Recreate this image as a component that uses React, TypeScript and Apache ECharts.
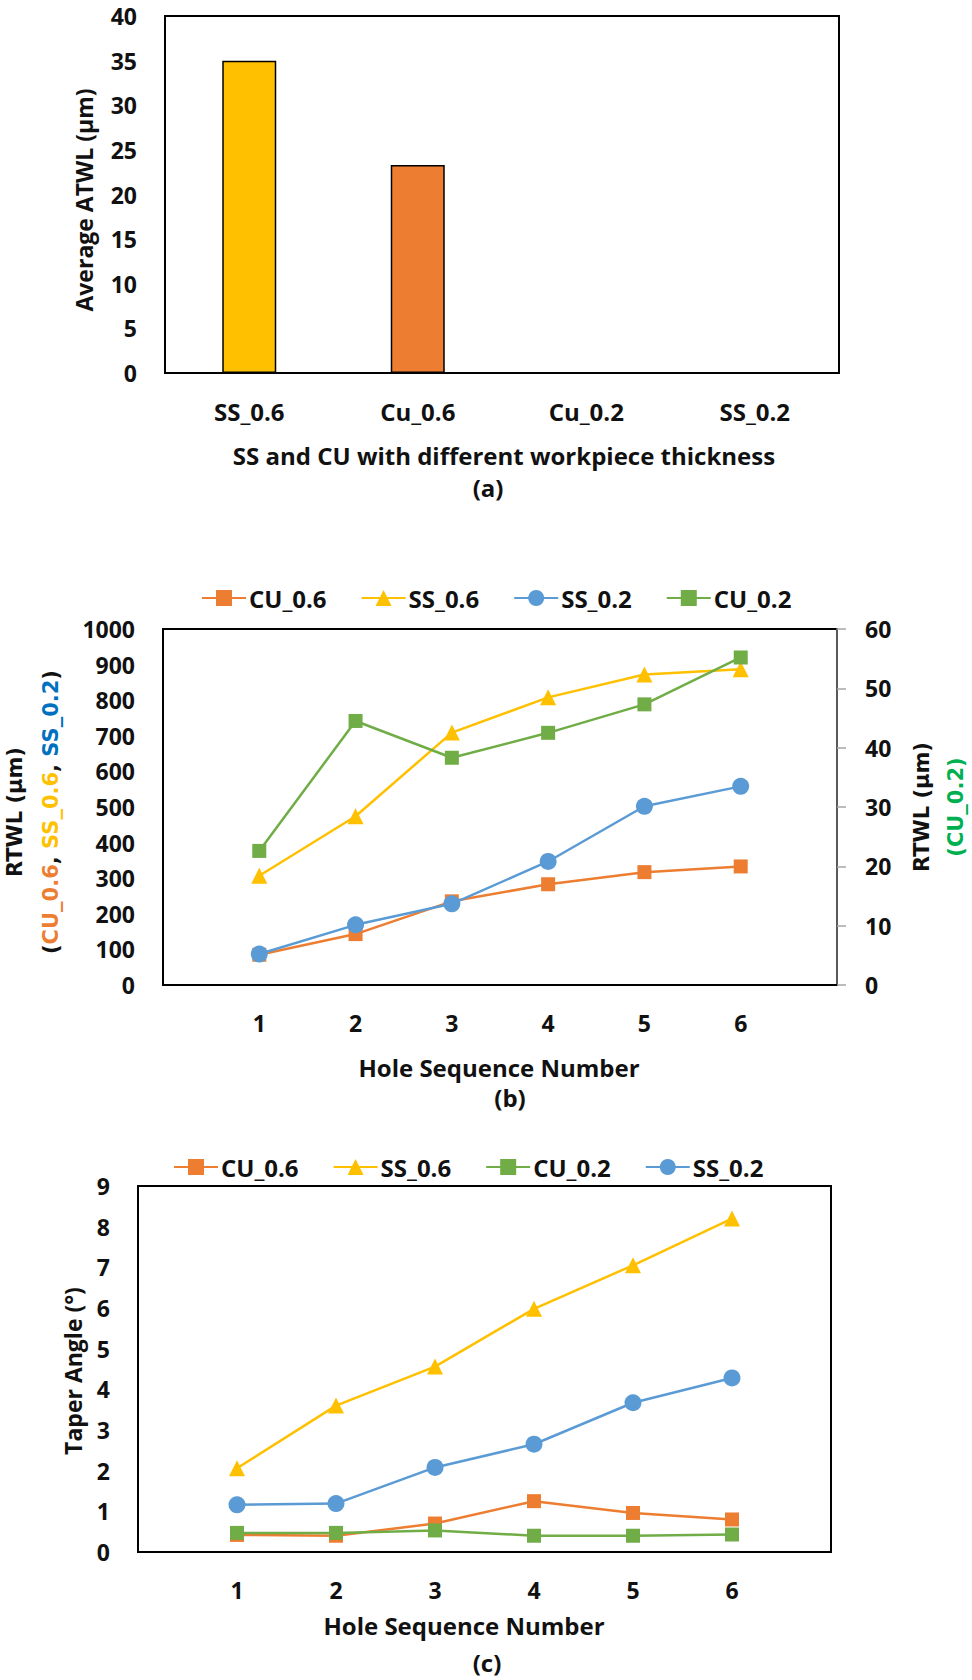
import { useEffect, useRef } from "react";
import * as echarts from "echarts";

// panel (a)
const materials = ["SS_0.6", "Cu_0.6", "Cu_0.2", "SS_0.2"];
const avgAtwl = [35, 23.3, 0, 0];
const barColors = ["#FFC000", "#ED7D31", "#70AD47", "#5B9BD5"];

// panels (b) and (c)
const holes = [1, 2, 3, 4, 5, 6];
const rtwlCu06 = [85, 143, 235, 283, 317, 333];
const rtwlSs06 = [307, 474, 709, 808, 872, 887];
const rtwlSs02 = [87, 169, 228, 347, 502, 558];
const rtwlCu02 = [22.6, 44.5, 38.3, 42.5, 47.3, 55.2]; // right axis

const taperCu06 = [0.42, 0.4, 0.7, 1.25, 0.96, 0.8];
const taperSs06 = [2.06, 3.6, 4.56, 5.98, 7.05, 8.2];
const taperCu02 = [0.47, 0.47, 0.53, 0.4, 0.4, 0.43];
const taperSs02 = [1.16, 1.19, 2.08, 2.65, 3.67, 4.28];

const FONT = '"Open Sans", "Noto Sans", sans-serif';
const TITLE_FONT = '"DejaVu Sans", "Open Sans", sans-serif';
const INK = "#111";

const ORANGE = "#ED7D31";
const YELLOW = "#FFC000";
const BLUE = "#5B9BD5";
const GREEN = "#70AD47";

const tickLabel = {
  fontSize: 23,
  fontWeight: "bold",
  color: INK,
  fontFamily: FONT,
  margin: 28,
  lineHeight: 22,
  formatter: (v: number) => String(v),
};

function lineSeries(name: string, values: number[], color: string, symbol: string, size: number, x: number, y: number) {
  return {
    type: "line",
    name,
    xAxisIndex: x,
    yAxisIndex: y,
    data: holes.map((h, i) => [h, values[i]]),
    symbol,
    symbolSize: size,
    itemStyle: { color },
    lineStyle: { color, width: 2.5 },
  };
}

function holeAxis(gridIndex: number) {
  return {
    gridIndex,
    type: "value",
    min: 0,
    max: 7,
    interval: 1,
    axisLine: { lineStyle: { color: "#000", width: 2 } },
    axisTick: { show: false },
    splitLine: { show: false },
    axisLabel: {
      ...tickLabel,
      margin: 27,
      formatter: (v: number) => (holes.includes(v) ? String(v) : ""),
    },
  };
}

function valueAxis(gridIndex: number, max: number, interval: number) {
  return {
    gridIndex,
    type: "value",
    min: 0,
    max,
    interval,
    axisLine: { show: true, lineStyle: { color: "#000", width: 2 } },
    axisTick: { show: false },
    splitLine: { show: false },
    axisLabel: tickLabel,
  };
}

function label(text: string, x: number, y: number, size = 24, rotate = false, font = FONT) {
  return {
    type: "text",
    x,
    y,
    rotation: rotate ? Math.PI / 2 : 0,
    style: {
      text,
      fontSize: size,
      fontWeight: "bold",
      fontFamily: font,
      fill: INK,
      align: "center",
      verticalAlign: "middle",
    },
  };
}

const legendBase = {
  itemWidth: 44,
  itemHeight: 20,
  itemGap: 34,
  textStyle: { fontSize: 24, fontWeight: "bold", fontFamily: FONT, color: INK, padding: [0, 0, 0, -2] },
};

export default function App() {
  const chartRef = useRef<HTMLDivElement>(null);

  useEffect(() => {
    if (!chartRef.current) return;
    const chart = echarts.init(chartRef.current, null, { renderer: "svg" });

    const option = {
      animation: false,
      backgroundColor: "#fff",
      grid: [
        { left: 165, top: 16, width: 674, height: 357, show: true, borderColor: "#000", borderWidth: 2 },
        { left: 163, top: 629, width: 674, height: 356, show: true, borderColor: "#000", borderWidth: 2 },
        { left: 138, top: 1186, width: 693, height: 366, show: true, borderColor: "#000", borderWidth: 2 },
      ],
      legend: [
        { ...legendBase, left: 196, top: 581, data: ["CU_0.6", "SS_0.6", "SS_0.2", "CU_0.2"] },
        { ...legendBase, left: 168, top: 1150, data: ["CU_0.6", "SS_0.6", "CU_0.2", "SS_0.2"] },
      ],
      xAxis: [
        {
          gridIndex: 0,
          type: "category",
          data: materials,
          axisLine: { lineStyle: { color: "#000", width: 2 } },
          axisTick: { show: false },
          axisLabel: { ...tickLabel, fontSize: 24, margin: 27, formatter: undefined },
        },
        holeAxis(1),
        holeAxis(2),
      ],
      yAxis: [
        valueAxis(0, 40, 5),
        valueAxis(1, 1000, 100),
        {
          gridIndex: 1,
          type: "value",
          position: "right",
          min: 0,
          max: 60,
          interval: 10,
          axisLine: { show: true, lineStyle: { color: "#595959", width: 2 } },
          axisTick: { show: true, length: 9, lineStyle: { color: "#a6a6a6", width: 1.5 } },
          splitLine: { show: false },
          axisLabel: tickLabel,
        },
        valueAxis(2, 9, 1),
      ],
      series: [
        {
          type: "bar",
          xAxisIndex: 0,
          yAxisIndex: 0,
          barWidth: 54,
          data: avgAtwl.map((v, i) => ({
            value: v,
            itemStyle: { color: barColors[i], borderColor: "#000", borderWidth: 1.5 },
          })),
        },
        lineSeries("CU_0.6", rtwlCu06, ORANGE, "rect", 14, 1, 1),
        lineSeries("SS_0.6", rtwlSs06, YELLOW, "triangle", 16, 1, 1),
        lineSeries("SS_0.2", rtwlSs02, BLUE, "circle", 17, 1, 1),
        lineSeries("CU_0.2", rtwlCu02, GREEN, "rect", 14, 1, 2),
        lineSeries("CU_0.6", taperCu06, ORANGE, "rect", 14, 2, 3),
        lineSeries("SS_0.6", taperSs06, YELLOW, "triangle", 16, 2, 3),
        lineSeries("CU_0.2", taperCu02, GREEN, "rect", 14, 2, 3),
        lineSeries("SS_0.2", taperSs02, BLUE, "circle", 17, 2, 3),
      ],
      graphic: [
        label("Average ATWL (µm)", 84, 200, 23, true),
        label("SS and CU with different workpiece thickness", 504, 455),
        label("(a)", 488, 487),

        label("RTWL (µm)", 15, 812, 21, true, TITLE_FONT),
        {
          type: "text",
          x: 51,
          y: 812,
          rotation: Math.PI / 2,
          style: {
            text: "({o|CU_0.6}, {y|SS_0.6}, {b|SS_0.2})",
            fontSize: 21,
            fontWeight: "bold",
            fontFamily: TITLE_FONT,
            fill: INK,
            align: "center",
            verticalAlign: "middle",
            rich: {
              o: { fill: ORANGE, fontSize: 21, fontWeight: "bold", fontFamily: TITLE_FONT },
              y: { fill: YELLOW, fontSize: 21, fontWeight: "bold", fontFamily: TITLE_FONT },
              b: { fill: "#0070C0", fontSize: 21, fontWeight: "bold", fontFamily: TITLE_FONT },
            },
          },
        },
        label("RTWL (µm)", 922, 807, 21, true, TITLE_FONT),
        {
          type: "text",
          x: 956,
          y: 807,
          rotation: Math.PI / 2,
          style: {
            text: "(CU_0.2)",
            fontSize: 21,
            fontWeight: "bold",
            fontFamily: TITLE_FONT,
            fill: "#00B050",
            align: "center",
            verticalAlign: "middle",
          },
        },
        label("Hole Sequence Number", 499, 1067),
        label("(b)", 510, 1097),

        label("Taper Angle (°)", 73, 1371, 23, true),
        label("Hole Sequence Number", 464, 1625),
        label("(c)", 487, 1662),
      ],
    };

    chart.setOption(option as echarts.EChartsOption);

    return () => {
      chart.dispose();
    };
  }, []);

  return (
    <div
      ref={chartRef}
      style={{ position: "absolute", left: 0, top: 0, width: 972, height: 1680 }}
    />
  );
}
